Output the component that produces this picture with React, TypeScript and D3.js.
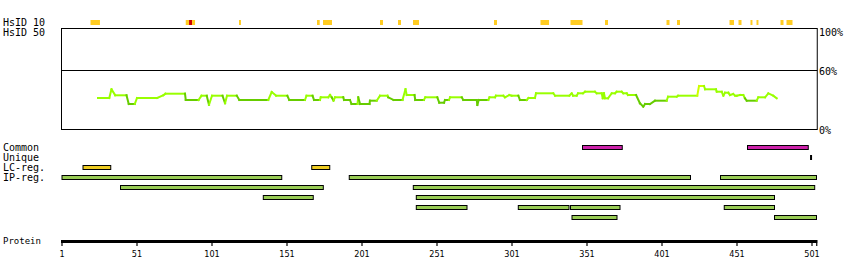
import React from "react";
import * as d3 from "d3";

const PROTEIN_LENGTH = 504;
const axisTicks = [1, 51, 101, 151, 201, 251, 301, 351, 401, 451, 501];

// HsID 10 marks [start, end, level] (level 1 = red)
const hsidStart = [20, 83.5, 85.7, 87.7, 119, 171, 175, 213, 225, 235, 289, 320, 340, 363, 404, 411, 446, 452, 460, 464, 480, 484];
const hsidEnd = [26.3, 85.7, 87.7, 89.7, 120.3, 172.8, 181, 215, 227, 239, 291, 325.7, 348, 365, 406, 413, 449, 454, 461.3, 465.3, 482, 488];
const hsidLevel = [0, 0, 1, 0, 0, 0, 0, 0, 0, 0, 0, 0, 0, 0, 0, 0, 0, 0, 0, 0, 0, 0];

// Identity line (residue, percent)
const lineRes = [25, 32.5, 34, 36.5, 44, 45.5, 49.5, 51, 64.5, 68.5, 70, 83, 83.5, 92, 94, 97.5, 99, 101, 108, 109.7, 111, 117.5, 119.2, 138.5, 140.8, 143.7, 151.2, 152.5, 163, 164, 168, 169, 173, 173.5, 178.5, 179.7, 180.8, 182, 183, 188.5, 189, 193, 194, 198, 198.5, 199.7, 206, 206.3, 210.8, 213, 218, 218.5, 222, 228, 230, 230.8, 236, 236.5, 242.3, 243.2, 251.2, 252.5, 255.7, 256.3, 259, 259.7, 267.5, 268.5, 277.5, 277.9, 278.8, 285.2, 286, 289.7, 290.3, 295.2, 296.3, 299.2, 300.8, 305.2, 306.3, 310.8, 312, 316.3, 317, 328.5, 329.7, 339.2, 340.8, 341.7, 344.1, 345, 348.3, 349.7, 356.3, 357.5, 360.8, 361.5, 362.3, 363, 365, 367.5, 369.7, 370.8, 374.1, 375.2, 377.5, 378.3, 383.7, 386.3, 388.5, 389.7, 393, 396.3, 404.1, 405, 410.8, 411.7, 424.5, 425.7, 429, 429.7, 437, 437.5, 440.8, 441.9, 443, 445.2, 446.3, 448.5, 449.7, 450.8, 453, 455.2, 456.3, 457.5, 464.1, 465.2, 469.7, 471.9, 475.2, 477.5];
const lineVal = [32, 32, 40.7, 34.7, 34.7, 26, 26, 32, 32, 34.7, 36.3, 36.3, 30, 30, 34.3, 34.3, 25.3, 34.3, 34.3, 26.7, 34.3, 34.3, 30, 30, 38, 34.3, 34.3, 30, 30, 34.3, 34.3, 30, 30, 32.7, 32.7, 35, 32.7, 29.3, 32.7, 32.7, 30, 30, 26, 26, 32.7, 26, 26, 29.3, 29.3, 34.3, 34.3, 32.7, 30, 30, 40.7, 35, 35, 30, 30, 32.7, 32.7, 27.3, 27.3, 30, 30, 32.7, 32.7, 30, 30, 25, 30, 30, 32.7, 32.7, 34.3, 34.3, 32.7, 35, 34.3, 34.3, 30, 30, 32, 32, 36.7, 36.7, 34.3, 34.3, 36.7, 34.3, 34.3, 36.7, 36.7, 38.3, 38.3, 36.7, 36.7, 31.7, 36.7, 31.7, 31.7, 36.7, 36.7, 38.3, 38.3, 36.7, 36.7, 35, 35, 26.7, 23.3, 26, 26, 29.3, 29.3, 33.3, 33.3, 34.3, 34.3, 44, 44, 40.7, 40.7, 38.3, 38.3, 34.3, 37.3, 37.3, 35, 36, 34.3, 34.3, 35, 35, 31.7, 29.3, 29.3, 32.7, 32.7, 36.7, 34.3, 31.7];

// Feature tracks
const commonStart = [348, 458];
const commonEnd = [374.5, 498.5];
const uniqueStart = [499.7];
const uniqueEnd = [501];
const lcStart = [15, 167.5];
const lcEnd = [33.5, 179.5];
const ipRow = [0, 0, 0, 1, 1, 2, 2, 3, 3, 3, 3, 4, 4];
const ipStart = [1, 192.5, 440, 40, 235.2, 135.2, 237.2, 237.2, 305.2, 340, 442.5, 341, 476];
const ipEnd = [147.5, 420, 504, 175.2, 502.8, 168.5, 476, 271, 339, 373, 476, 371, 504];

const rowLabels = ["Common", "Unique", "LC-reg.", "IP-reg."];

const MONO = "'DejaVu Sans Mono', monospace";

export default function App() {
  const x = d3.scaleLinear().domain([1, 501]).range([62, 812]);
  const y = d3.scaleLinear().domain([0, 100]).range([130, 30]);
  const xEnd = x(PROTEIN_LENGTH + 0.5);

  const colorFor = (v: number) => (v >= 42.5 ? "#ccff00" : v > 30.5 ? "#99ff00" : "#66cc00");

  const segs = lineRes.slice(1).map((r, i) => {
    const v0 = lineVal[i];
    const v1 = lineVal[i + 1];
    const c = colorFor(Math.min(v0, v1) === v1 ? v1 : v1);
    return { x1: x(lineRes[i]), y1: y(v0), x2: x(r), y2: y(v1), c };
  });

  return (
    <svg width={850} height={280} style={{ position: "absolute", left: 0, top: 0, background: "#fff" }}>
      <rect x={0} y={0} width={850} height={280} fill="#fff" />
      {/* labels */}
      <text x={3} y={26} fontFamily={MONO} fontSize={10}>HsID 10</text>
      <text x={3} y={36} fontFamily={MONO} fontSize={10}>HsID 50</text>
      {rowLabels.map((l, i) => (
        <text key={l} x={3} y={151 + i * 10} fontFamily={MONO} fontSize={10}>{l}</text>
      ))}
      <text x={3} y={244} fontFamily={MONO} fontSize={9}>Protein</text>

      {/* HsID 10 marks */}
      {hsidStart.map((s, i) => (
        <rect key={i} x={x(s)} y={20} width={x(hsidEnd[i]) - x(s)} height={5} fill={hsidLevel[i] ? "#cc0000" : "#ffcc22"} />
      ))}

      {/* Box */}
      <rect x={61.5} y={28.5} width={xEnd - 61.5} height={101} fill="none" stroke="#000" strokeWidth={1} />
      <line x1={61.5} x2={xEnd} y1={y(60) + 0.5} y2={y(60) + 0.5} stroke="#000" strokeWidth={1} />
      <text x={819} y={36} fontFamily={MONO} fontSize={10}>100%</text>
      <text x={819} y={75} fontFamily={MONO} fontSize={10}>60%</text>
      <text x={819} y={134} fontFamily={MONO} fontSize={10}>0%</text>

      {/* identity line */}
      {segs.map((s, i) => (
        <line key={i} x1={s.x1} y1={s.y1} x2={s.x2} y2={s.y2} stroke={s.c} strokeWidth={2} strokeLinecap="square" />
      ))}

      {/* Common */}
      {commonStart.map((s, i) => (
        <rect key={i} x={x(s)} y={145.5} width={x(commonEnd[i]) - x(s)} height={4} fill="#cc22aa" stroke="#000" strokeWidth={1} />
      ))}
      {uniqueStart.map((s, i) => (
        <rect key={i} x={x(s)} y={155} width={Math.max(2, x(uniqueEnd[i]) - x(s))} height={5} fill="#000" />
      ))}
      {lcStart.map((s, i) => (
        <rect key={i} x={x(s)} y={165.5} width={x(lcEnd[i]) - x(s)} height={4} fill="#eecc22" stroke="#000" strokeWidth={1} />
      ))}
      {ipStart.map((s, i) => (
        <rect key={i} x={x(s)} y={175.5 + ipRow[i] * 10} width={x(ipEnd[i]) - x(s)} height={4} fill="#99cc55" stroke="#000" strokeWidth={1} />
      ))}

      {/* Protein axis */}
      <rect x={61} y={240} width={xEnd - 61} height={3} fill="#000" />
      {axisTicks.map((t) => (
        <g key={t}>
          <line x1={x(t)} x2={x(t)} y1={240} y2={246} stroke="#000" strokeWidth={1.2} />
          <text x={x(t)} y={257} textAnchor="middle" fontFamily="'DejaVu Sans Condensed', 'DejaVu Sans', sans-serif" fontSize={9}>{t}</text>
        </g>
      ))}
      <line x1={xEnd - 0.5} x2={xEnd - 0.5} y1={240} y2={246} stroke="#000" strokeWidth={1.2} />
    </svg>
  );
}
